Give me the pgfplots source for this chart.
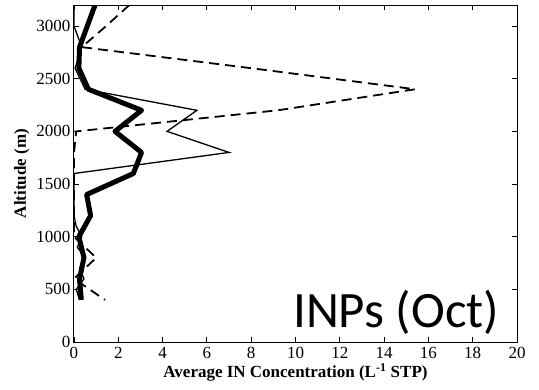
\documentclass[border=0pt]{standalone}
\usepackage{fontspec}
\setmainfont{Liberation Serif}
\newfontfamily\calib{Carlito}
\usepackage{pgfplots}
\pgfplotsset{compat=1.18}
\begin{document}
\begin{tikzpicture}[x=1pt,y=1pt]
\begin{axis}[
  scale only axis, width=443pt, height=337pt, at={(0,0)}, anchor=south west,
  xmin=0, xmax=20, ymin=0, ymax=3200,
  xtick={0,2,...,20}, ytick={0,500,...,3000},
  tick align=inside, major tick length=5pt,
  axis line style={line width=1pt}, every tick/.style={black, line width=0.8pt},
  /pgf/number format/assume math mode=true,
  /pgf/number format/1000 sep={},
  ticklabel style={font=\fontsize{17}{17}\selectfont},
  xticklabel style={yshift=-2pt},
  xlabel={Average IN Concentration (L\textsuperscript{-1} STP)},
  ylabel={Altitude (m)},
  label style={font=\bfseries\fontsize{17}{17}\selectfont},
  xlabel style={yshift=2pt},
  ylabel style={yshift=0pt},
]
\addplot[black, line width=1.3pt] coordinates {
(0,3200) (0,3000) (0.35,2800) (0.05,2600) (0.5,2400) (5.55,2200) (4.2,2000) (7.0,1800) (0,1600) (0,1400) (0,1200) (0.1,1100) (0.35,1000) (0.15,900) (0.5,800) (0.25,700) (0.45,600) (0.1,500) (0.25,400)
};
\addplot[black, line width=1.8pt, dash pattern=on 10pt off 6pt] coordinates {
(2.5,3200) (1.45,3000) (0.35,2800) (8.0,2600) (15.4,2400) (9.2,2200) (0.1,2000) (0,1800) (0,1600) (0,1400) (0,1200) (0,1000) (1.0,800) (0,600) (1.4,400)
};
\addplot[black, line width=5pt, line join=round] coordinates {
(0.95,3200) (0.6,3000) (0.25,2800) (0.22,2600) (0.65,2400) (3.05,2200) (1.85,2000) (3.05,1800) (2.68,1600) (0.57,1400) (0.75,1200) (0.22,1000) (0.45,800) (0.25,600) (0.33,400)
};
\node[anchor=base east, font=\calib\fontsize{51}{51}\selectfont] at (rel axis cs:0.968,0.042) {INPs (Oct)};
\end{axis}
\path[use as bounding box] (-74pt,-47pt) rectangle (465pt,342pt);
\end{tikzpicture}
\end{document}
